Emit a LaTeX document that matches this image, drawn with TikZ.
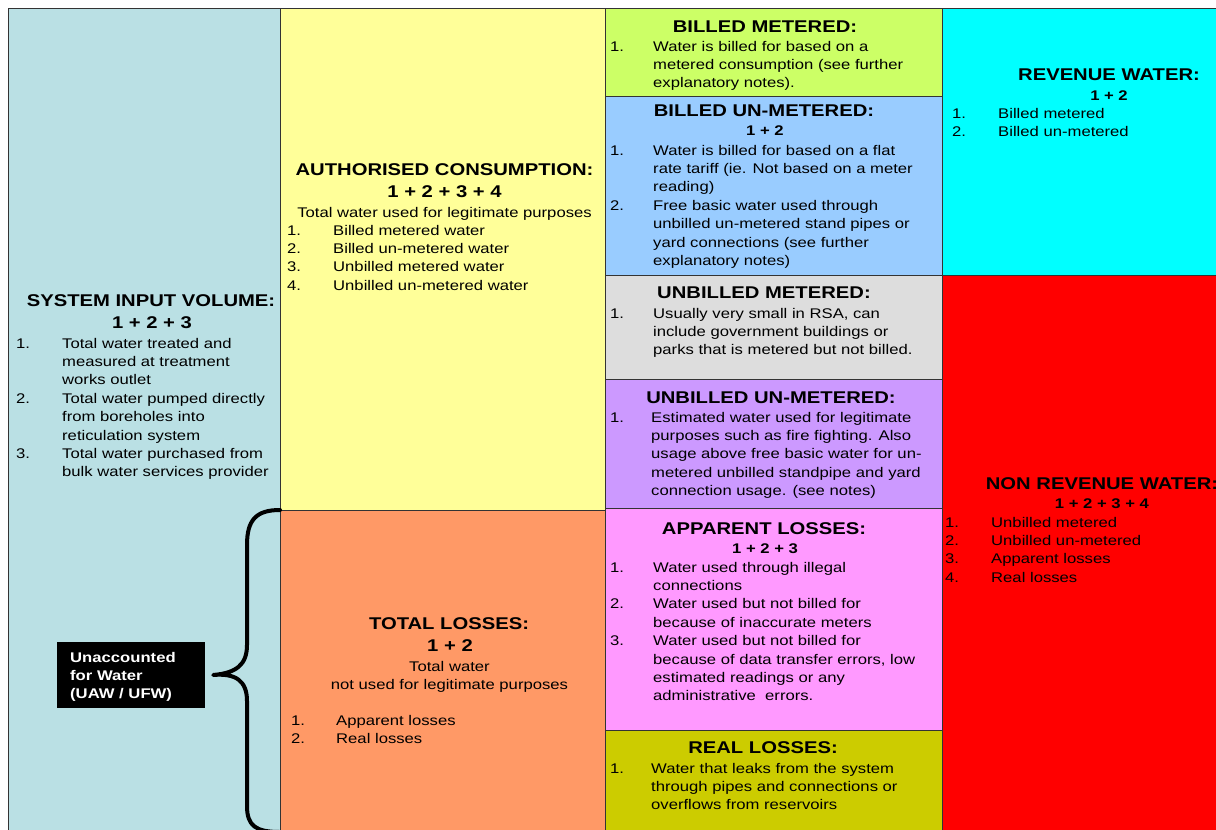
\documentclass[tikz,border=0pt]{standalone}
\usepackage{fontspec}
\setmainfont{Liberation Sans}[FakeStretch=1.19]
\usepackage{array}
\definecolor{cSIV}{RGB}{186,224,228}
\definecolor{cAuth}{HTML}{FFFF99}
\definecolor{cTL}{HTML}{FF9966}
\definecolor{cBM}{HTML}{CCFF66}
\definecolor{cBUM}{HTML}{99CCFF}
\definecolor{cUBM}{HTML}{DDDDDD}
\definecolor{cUBUM}{HTML}{CC99FF}
\definecolor{cAL}{HTML}{FF99FF}
\definecolor{cRL}{HTML}{CCCC00}
\definecolor{cRW}{HTML}{00FFFF}
\definecolor{cNRW}{HTML}{FF0000}
\definecolor{bord}{HTML}{333333}
\newcommand\lst[2]{\begin{tabular}[t]{@{}p{#1}@{}l@{}}#2\end{tabular}}
\begin{document}
\begin{tikzpicture}[x=1pt,y=-1pt,
  cell/.style={draw=bord, line width=1.4pt, rectangle, inner sep=0pt, anchor=north west},
  hd/.style={anchor=base, inner sep=0pt, font=\fontsize{17}{20}\selectfont\bfseries},
  sub/.style={anchor=base, inner sep=0pt, font=\fontsize{14}{18}\selectfont\bfseries},
  txt/.style={anchor=base, inner sep=0pt, font=\fontsize{14}{18.3}\selectfont},
  lstn/.style={anchor=base west, inner sep=0pt, font=\fontsize{14}{18.4}\selectfont},
  brace/.style={line width=4pt, line cap=round, line join=round}]
\useasboundingbox (0,0) rectangle (1216,830);
\fill[white] (0,0) rectangle (1216,830);
\clip (0,0) rectangle (1216,830);
% cells
\node[cell, fill=cSIV, minimum width=272pt, minimum height=840pt] (siv) at (8,8) {};
\node[cell, fill=cAuth, minimum width=325pt, minimum height=502pt] (auth) at (280,8) {};
\node[cell, fill=cTL, minimum width=325pt, minimum height=340pt] (tl) at (280,510) {};
\node[cell, fill=cBM, minimum width=337pt, minimum height=88pt] (bm) at (605,8) {};
\node[cell, fill=cBUM, minimum width=337pt, minimum height=179pt] (bum) at (605,96) {};
\node[cell, fill=cUBM, minimum width=337pt, minimum height=104pt] (ubm) at (605,275) {};
\node[cell, fill=cUBUM, minimum width=337pt, minimum height=129pt] (ubum) at (605,379) {};
\node[cell, fill=cAL, minimum width=337pt, minimum height=222pt] (al) at (605,508) {};
\node[cell, fill=cRL, minimum width=337pt, minimum height=120pt] (rl) at (605,730) {};
\node[cell, fill=cRW, minimum width=300pt, minimum height=267pt] (rw) at (942,8) {};
\node[cell, fill=cNRW, minimum width=300pt, minimum height=575pt] (nrw) at (942,275) {};
% system input volume
\node[hd] (sivH) at (151,306) {SYSTEM INPUT VOLUME:};
\node[hd] (sivS) at (152,328) {1 + 2 + 3};
\node[lstn] (sivL) at (16,348) {\lst{46pt}{1. & Total water treated and\\ & measured at treatment\\ & works outlet\\
2. & Total water pumped directly\\ & from boreholes into\\ & reticulation system\\
3. & Total water purchased from\\ & bulk water services provider}};
% authorised consumption
\node[hd] (authH) at (444.5,175) {AUTHORISED CONSUMPTION:};
\node[hd] (authS) at (444.5,197) {1 + 2 + 3 + 4};
\node[txt] (authT) at (444.5,217) {Total water used for legitimate purposes};
\node[lstn] (authL) at (287,235) {\lst{46pt}{1. & Billed metered water\\ 2. & Billed un-metered water\\ 3. & Unbilled metered water\\ 4. & Unbilled un-metered water}};
% total losses
\node[hd] (tlH) at (449,629) {TOTAL LOSSES:};
\node[hd] (tlS) at (450,651) {1 + 2};
\node[txt] (tlT1) at (449.5,671) {Total water};
\node[txt] (tlT2) at (449.5,689) {not used for legitimate purposes};
\node[lstn] (tlL) at (291,725) {\lst{45pt}{1. & Apparent losses\\ 2. & Real losses}};
% billed metered
\node[hd] (bmH) at (765,32) {BILLED METERED:};
\node[lstn] (bmL) at (610,51) {\lst{43pt}{1. & Water is billed for based on a\\ & metered consumption (see further\\ & explanatory notes).}};
% billed un-metered
\node[hd] (bumH) at (764,116) {BILLED UN-METERED:};
\node[sub] (bumS) at (765,135) {1 + 2};
\node[lstn] (bumL) at (610,155) {\lst{43pt}{1. & Water is billed for based on a flat\\ & rate tariff (ie. Not based on a meter\\ & reading)\\
2. & Free basic water used through\\ & unbilled un-metered stand pipes or\\ & yard connections (see further\\ & explanatory notes)}};
% unbilled metered
\node[hd] (ubmH) at (764,298) {UNBILLED METERED:};
\node[lstn] (ubmL) at (610,318) {\lst{43pt}{1. & Usually very small in RSA, can\\ & include government buildings or\\ & parks that is metered but not billed.}};
% unbilled un-metered
\node[hd] (ubumH) at (771,403) {UNBILLED UN-METERED:};
\node[lstn] (ubumL) at (610,422) {\lst{41pt}{1. & Estimated water used for legitimate\\ & purposes such as fire fighting. Also\\ & usage above free basic water for un-\\ & metered unbilled standpipe and yard\\ & connection usage. (see notes)}};
% apparent losses
\node[hd] (alH) at (764,534) {APPARENT LOSSES:};
\node[sub] (alS) at (765,553) {1 + 2 + 3};
\node[lstn] (alL) at (610,572) {\lst{43pt}{1. & Water used through illegal\\ & connections\\
2. & Water used but not billed for\\ & because of inaccurate meters\\
3. & Water used but not billed for\\ & because of data transfer errors, low\\ & estimated readings or any\\ & administrative\ \ errors.}};
% real losses
\node[hd] (rlH) at (763,753) {REAL LOSSES:};
\node[lstn] (rlL) at (610,773) {\lst{41pt}{1. & Water that leaks from the system\\ & through pipes and connections or\\ & overflows from reservoirs}};
% revenue water
\node[hd] (rwH) at (1109,80) {REVENUE WATER:};
\node[sub] (rwS) at (1109,100) {1 + 2};
\node[lstn] (rwL) at (952,118) {\lst{46pt}{1. & Billed metered\\ 2. & Billed un-metered}};
% non revenue water
\node[hd] (nrwH) at (1102,489) {NON REVENUE WATER:};
\node[sub] (nrwS) at (1102,508) {1 + 2 + 3 + 4};
\node[lstn] (nrwL) at (945,527) {\lst{46pt}{1. & Unbilled metered\\ 2. & Unbilled un-metered\\ 3. & Apparent losses\\ 4. & Real losses}};
% unaccounted for water
\node[fill=black, rectangle, minimum width=148pt, minimum height=66pt, inner sep=0pt] (uaw) at (131,675) {};
\node[anchor=base west, inner sep=0pt, text=white,
  font=\fontsize{14}{18}\selectfont\bfseries] (uawT) at (70,662)
  {\begin{tabular}[t]{@{}l@{}}Unaccounted\\for Water\\(UAW / UFW)\end{tabular}};
\coordinate (tip) at ([xshift=8pt]uaw.east);
\draw[brace] (tl.north west) .. controls (256,510) and (247,520) .. (247,545)
  -- (247,645) .. controls (247,665) and (236,673) .. (tip)
  .. controls (236,673) and (247,681) .. (247,701)
  -- (247,806) .. controls (247,826) and (256,832) .. (280,832);
\end{tikzpicture}
\end{document}
